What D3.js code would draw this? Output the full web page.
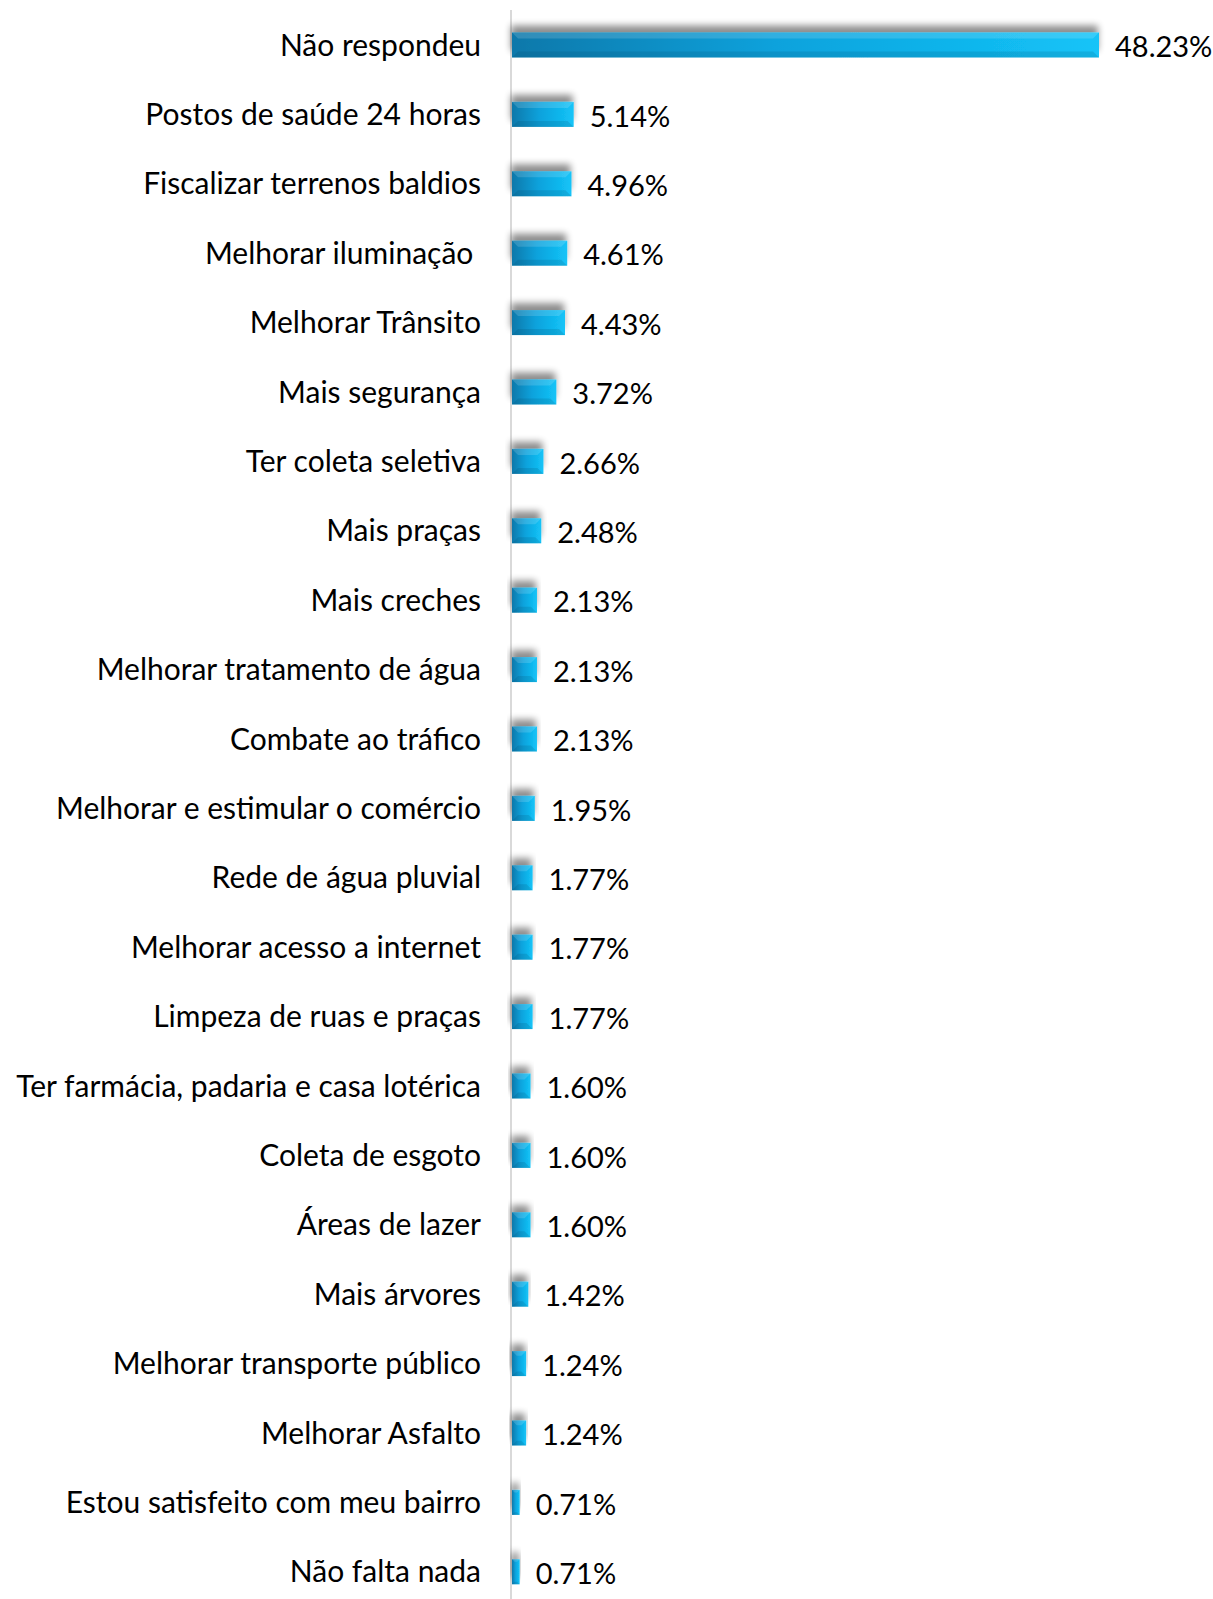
<!DOCTYPE html>
<html><head><meta charset="utf-8">
<script src="https://cdn.jsdelivr.net/npm/d3@7"></script>
<style>body{margin:0;background:#fff}svg{display:block}text{white-space:pre}</style>
</head><body>
<script>
const categories = ["Não respondeu","Postos de saúde 24 horas","Fiscalizar terrenos baldios","Melhorar iluminação ","Melhorar Trânsito","Mais segurança","Ter coleta seletiva","Mais praças","Mais creches","Melhorar tratamento de água","Combate ao tráfico","Melhorar e estimular o comércio","Rede de água pluvial","Melhorar acesso a internet","Limpeza de ruas e praças","Ter farmácia, padaria e casa lotérica","Coleta de esgoto","Áreas de lazer","Mais árvores","Melhorar transporte público","Melhorar Asfalto","Estou satisfeito com meu bairro","Não falta nada"];
const values = [48.23,5.14,4.96,4.61,4.43,3.72,2.66,2.48,2.13,2.13,2.13,1.95,1.77,1.77,1.77,1.60,1.60,1.60,1.42,1.24,1.24,0.71,0.71];

const W = 1213, H = 1599;
const svg = d3.select("body").append("svg").attr("width", W).attr("height", H);
const defs = svg.append("defs");
const grad = defs.append("linearGradient").attr("id","barGrad").attr("x1","0").attr("x2","1").attr("y1","0").attr("y2","0");
grad.append("stop").attr("offset","0%").attr("stop-color","#0878aa");
grad.append("stop").attr("offset","45%").attr("stop-color","#0ba2dc");
grad.append("stop").attr("offset","100%").attr("stop-color","#14c4f8");
const sh = defs.append("filter").attr("id","shadow").attr("x","-20%").attr("y","-80%").attr("width","140%").attr("height","200%");
sh.append("feGaussianBlur").attr("in","SourceAlpha").attr("stdDeviation",3.5).attr("result","b");
sh.append("feOffset").attr("in","b").attr("dx",-1).attr("dy",-7).attr("result","o");
sh.append("feComponentTransfer").attr("in","o").attr("result","s").append("feFuncA").attr("type","linear").attr("slope",0.45);
const m = sh.append("feMerge"); m.append("feMergeNode").attr("in","s"); m.append("feMergeNode").attr("in","SourceGraphic");

const x0 = 511;
const x = d3.scaleLinear().domain([0, 48.23]).range([x0, 1099]);
const y = d3.scaleBand().domain(categories).range([10.3, 10.3 + 23*69.4]).paddingInner(0.64).paddingOuter(0.32);

svg.append("line").attr("x1",x0).attr("x2",x0).attr("y1",10).attr("y2",H).attr("stroke","#d9d9d9").attr("stroke-width",2);

const g = svg.append("g");
const bars = g.selectAll("g.bar").data(categories).join("g").attr("class","bar");
bars.append("rect").attr("x", x0+1).attr("y", d=>y(d)).attr("width",(d,i)=>x(values[i])-x0-1).attr("height",y.bandwidth())
  .attr("fill","url(#barGrad)").attr("filter","url(#shadow)");
bars.append("path").attr("d",(d,i)=>{const x1=x0+1,x2=x(values[i]),y1=y(d),h=y.bandwidth(),b=Math.min(6,(x2-x1)/3);
  return `M${x1},${y1}L${x2},${y1}L${x2-b},${y1+b}L${x1+b},${y1+b}Z`;}).attr("fill","#ffffff").attr("opacity",0.15);
bars.append("path").attr("d",(d,i)=>{const x1=x0+1,x2=x(values[i]),y1=y(d),h=y.bandwidth(),b=Math.min(6,(x2-x1)/3);
  return `M${x1},${y1+h}L${x2},${y1+h}L${x2-b},${y1+h-b}L${x1+b},${y1+h-b}Z`;}).attr("fill","#003a55").attr("opacity",0.15);

svg.append("g").selectAll("text").data(categories).join("text")
  .attr("x",481).attr("y",d=>y(d)+y.bandwidth()/2).attr("dy","0.35em").attr("text-anchor","end")
  .attr("font-family","Lato, 'Open Sans', sans-serif").attr("font-size",30).attr("fill","#000").text(d=>d);

svg.append("g").selectAll("text").data(categories).join("text")
  .attr("x",(d,i)=>x(values[i])+16).attr("y",d=>y(d)+y.bandwidth()/2+2).attr("dy","0.35em")
  .attr("font-family","Lato, 'Open Sans', sans-serif").attr("font-size",29).attr("fill","#000").text((d,i)=>values[i].toFixed(2)+"%");
</script>
</body></html>
